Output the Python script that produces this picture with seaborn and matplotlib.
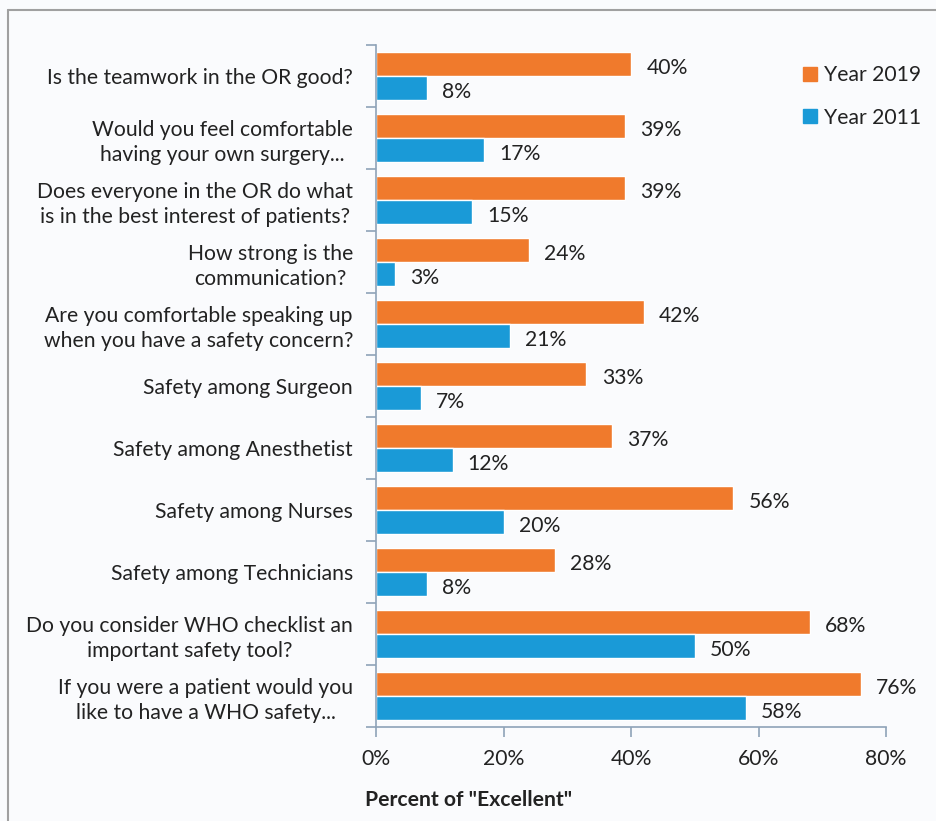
import matplotlib
matplotlib.use("Agg")
import matplotlib.pyplot as plt
import seaborn as sns
import pandas as pd
from matplotlib.ticker import FixedLocator, PercentFormatter
from matplotlib.lines import Line2D

categories = [
    "Is the teamwork in the OR good?",
    "Would you feel comfortable\nhaving your own surgery...",
    "Does everyone in the OR do what\nis in the best interest of patients?",
    "How strong is the\ncommunication?",
    "Are you comfortable speaking up\nwhen you have a safety concern?",
    "Safety among Surgeon",
    "Safety among Anesthetist",
    "Safety among Nurses",
    "Safety among Technicians",
    "Do you consider WHO checklist an\nimportant safety tool?",
    "If you were a patient would you\nlike to have a WHO safety...",
]
year_2019 = [40, 39, 39, 24, 42, 33, 37, 56, 28, 68, 76]
year_2011 = [8, 17, 15, 3, 21, 7, 12, 20, 8, 50, 58]
series_names = ["Year 2019", "Year 2011"]
x_ticks = [0, 20, 40, 60, 80]

df = pd.DataFrame({
    "Question": categories * 2,
    "Series": [series_names[0]] * len(categories) + [series_names[1]] * len(categories),
    "Value": year_2019 + year_2011,
})

sns.set_theme(style="white")
plt.rcParams["font.family"] = ["Lato", "DejaVu Sans"]

FS = 15.2
TXT = "#222222"
BG = "#FAFBFD"
fig = plt.figure(figsize=(9.36, 8.21), dpi=100, facecolor=BG)
ax = fig.add_axes([376/936, 1 - 727/821, 510/936, 682/821])
ax.set_facecolor(BG)

palette = {"Year 2019": "#F07A2C", "Year 2011": "#1A9AD7"}
sns.barplot(data=df, y="Question", x="Value", hue="Series", hue_order=series_names,
            order=categories, palette=palette, orient="h", width=0.78,
            saturation=1, ax=ax, legend=False)

ax.set_xlim(0, 80)
ax.set_ylim(len(categories) - 0.5, -0.5)
ax.xaxis.set_major_locator(FixedLocator(x_ticks))
ax.xaxis.set_major_formatter(PercentFormatter(decimals=0))

spine_col = "#8FA3B8"
for s in ["top", "right"]:
    ax.spines[s].set_visible(False)
for s in ["left", "bottom"]:
    ax.spines[s].set_color(spine_col)
    ax.spines[s].set_linewidth(1.2)

ax.tick_params(axis="x", which="major", length=7, width=1.2, color=spine_col,
               labelsize=FS, labelcolor=TXT, pad=9, direction="out", bottom=True)
ax.tick_params(axis="y", which="major", length=0, labelsize=FS, labelcolor=TXT, pad=16.5)
ax.set_yticks(range(len(categories)))
ax.set_yticklabels(categories, multialignment="center", linespacing=1.3)
ax.set_yticks([i - 0.5 for i in range(len(categories) + 1)], minor=True)
ax.tick_params(axis="y", which="minor", length=7, width=1.2, color=spine_col, left=True)

ax.set_xlabel("")
ax.set_ylabel("")

for container in ax.containers:
    texts = ax.bar_label(container, labels=[f"{v:.0f}%" for v in container.datavalues],
                         padding=11, fontsize=FS, color=TXT)
    for t in texts:
        t.xyann = (11, -3)

handles = [Line2D([], [], marker="s", linestyle="", markersize=9.5,
                  color=palette[n]) for n in series_names]
fig.legend(handles, series_names, loc="upper left", bbox_to_anchor=(791/936, 1 - 57/821),
           frameon=False, fontsize=FS, labelspacing=1.05, handletextpad=0.15,
           handlelength=1.0, borderaxespad=0, labelcolor=TXT)

fig.text(365/936, 1 - 800/821, 'Percent of "Excellent"', fontsize=FS, fontweight="bold",
         color=TXT, ha="left", va="center")

# outer frame lines (left and top)
fig.add_artist(Line2D([8/936, 8/936], [0, 1 - 10/821], transform=fig.transFigure,
                      color="#A0A0A0", linewidth=1.5))
fig.add_artist(Line2D([8/936, 1], [1 - 10/821, 1 - 10/821], transform=fig.transFigure,
                      color="#A0A0A0", linewidth=1.5))

fig.savefig("out.png", dpi=100, facecolor=BG)
